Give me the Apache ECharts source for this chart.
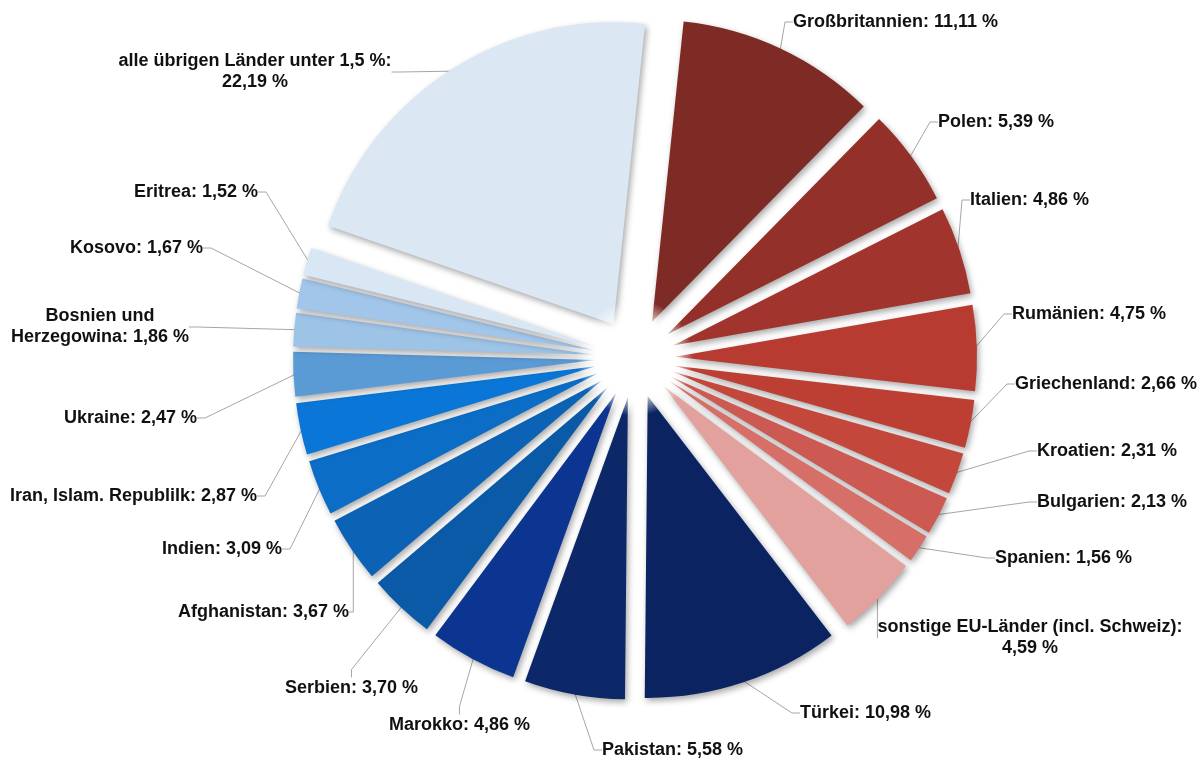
<!DOCTYPE html>
<html>
<head>
<meta charset="utf-8">
<script src="https://cdn.jsdelivr.net/npm/echarts@6/dist/echarts.min.js"></script>
<style>
html,body{margin:0;padding:0;background:#fff;}
#chart{width:1200px;height:760px;}
</style>
</head>
<body>
<div id="chart"></div>
<script>
// ---- Data (percent shares, clockwise from the top) ----
const names = [
  'Großbritannien', 'Polen', 'Italien', 'Rumänien', 'Griechenland', 'Kroatien',
  'Bulgarien', 'Spanien', 'sonstige EU-Länder (incl. Schweiz)', 'Türkei', 'Pakistan',
  'Marokko', 'Serbien', 'Afghanistan', 'Indien', 'Iran, Islam. Republilk', 'Ukraine',
  'Bosnien und Herzegowina', 'Kosovo', 'Eritrea', 'alle übrigen Länder unter 1,5 %'
];
const values = [
  11.11, 5.39, 4.86, 4.75, 2.66, 2.31,
  2.13, 1.56, 4.59, 10.98, 5.58,
  4.86, 3.70, 3.67, 3.09, 2.87, 2.47,
  1.86, 1.67, 1.52, 22.19
];

// ---- Styles ----
const colors = [
  '#7f2b25', '#93302a', '#a1342c', '#b73b30', '#bd3f34', '#c4473c',
  '#cc5a52', '#d56f68', '#e2a19d', '#0b2360', '#0d2868',
  '#0b3590', '#0a5aa8', '#0c63b5', '#0b6dc6', '#0a77d8', '#5b9bd5',
  '#9dc3e6', '#a2c6ea', '#d9e6f4', '#dce7f4'
];

// ---- Label placement (layout only, pixels: anchor x, middle y, alignment) ----
const labelPlacement = [
  [793, 22, 'left'], [938, 122, 'left'], [970, 200, 'left'], [1012, 314, 'left'],
  [1015, 384, 'left'], [1037, 451, 'left'], [1037, 502, 'left'], [995, 558, 'left'],
  [1030, 638, 'center'], [800, 713, 'left'], [602, 750, 'left'],
  [530, 725, 'right'], [418, 688, 'right'], [349, 612, 'right'], [282, 549, 'right'],
  [257, 496, 'right'], [197, 418, 'right'], [100, 327, 'center'], [203, 248, 'right'],
  [258, 192, 'right'], [255, 72, 'center']
];

const CENTER = [635, 358];
const RADIUS = 302;
const EXPLODE = 40;
const START = 84;
const FONT = 'Liberation Sans, Arial, sans-serif';

function fmt(v) { return v.toFixed(2).replace('.', ',') + ' %'; }

const sliceData = names.map((n, i) => ({
  name: n, value: values[i], selected: true, itemStyle: { color: colors[i] }
}));
const labelData = names.map((n, i) => ({ name: n, value: values[i] }));

const chart = echarts.init(document.getElementById('chart'), null, { renderer: 'canvas' });
chart.setOption({
  animation: false,
  backgroundColor: '#ffffff',
  graphic: [{
    type: 'circle',
    z: 100,
    silent: true,
    shape: { cx: CENTER[0], cy: CENTER[1], r: 58 },
    style: {
      fill: {
        type: 'radial', x: 0.5, y: 0.5, r: 0.5,
        colorStops: [
          { offset: 0, color: 'rgba(255,255,255,1)' },
          { offset: 0.6, color: 'rgba(255,255,255,0.95)' },
          { offset: 1, color: 'rgba(255,255,255,0)' }
        ]
      }
    }
  }],
  series: [{
    // exploded slices
    type: 'pie',
    center: CENTER,
    radius: [0, RADIUS],
    startAngle: START,
    clockwise: true,
    selectedMode: 'multiple',
    selectedOffset: EXPLODE,
    data: sliceData,
    itemStyle: {
      borderWidth: 0,
      shadowBlur: 6,
      shadowColor: 'rgba(0,0,0,0.35)',
      shadowOffsetX: 2,
      shadowOffsetY: 3
    },
    label: { show: false },
    labelLine: { show: false },
    emphasis: { disabled: true },
    select: { itemStyle: {} }
  }, {
    // label carrier (transparent, same angles, outer edge where the exploded arcs are)
    type: 'pie',
    silent: true,
    center: CENTER,
    radius: [RADIUS - 20, RADIUS + EXPLODE - 2],
    startAngle: START,
    clockwise: true,
    avoidLabelOverlap: false,
    data: labelData,
    itemStyle: { color: 'rgba(0,0,0,0)', borderWidth: 0 },
    label: {
      show: true,
      position: 'outside',
      color: '#111111',
      fontFamily: FONT,
      fontWeight: 'bold',
      fontSize: 18,
      lineHeight: 21,
      formatter: function (p) {
        const v = fmt(p.value);
        if (p.name === 'Bosnien und Herzegowina') {
          return '{c|Bosnien und}\n{c|Herzegowina: ' + v + '}';
        }
        if (p.name === 'sonstige EU-Länder (incl. Schweiz)' || p.name === 'alle übrigen Länder unter 1,5 %') {
          return '{c|' + p.name + ':}\n{c|' + v + '}';
        }
        return p.name + ': ' + v;
      },
      rich: {
        c: {
          align: 'center', color: '#111111', fontFamily: FONT,
          fontWeight: 'bold', fontSize: 18, lineHeight: 21
        }
      }
    },
    labelLine: {
      show: true,
      length: 12,
      length2: 8,
      lineStyle: { color: '#a6a6a6', width: 1 }
    },
    labelLayout: function (params) {
      const p = labelPlacement[params.dataIndex];
      return { x: p[0], y: p[1], align: p[2], verticalAlign: 'middle', hideOverlap: false };
    },
    emphasis: { disabled: true }
  }]
});
</script>
</body>
</html>
